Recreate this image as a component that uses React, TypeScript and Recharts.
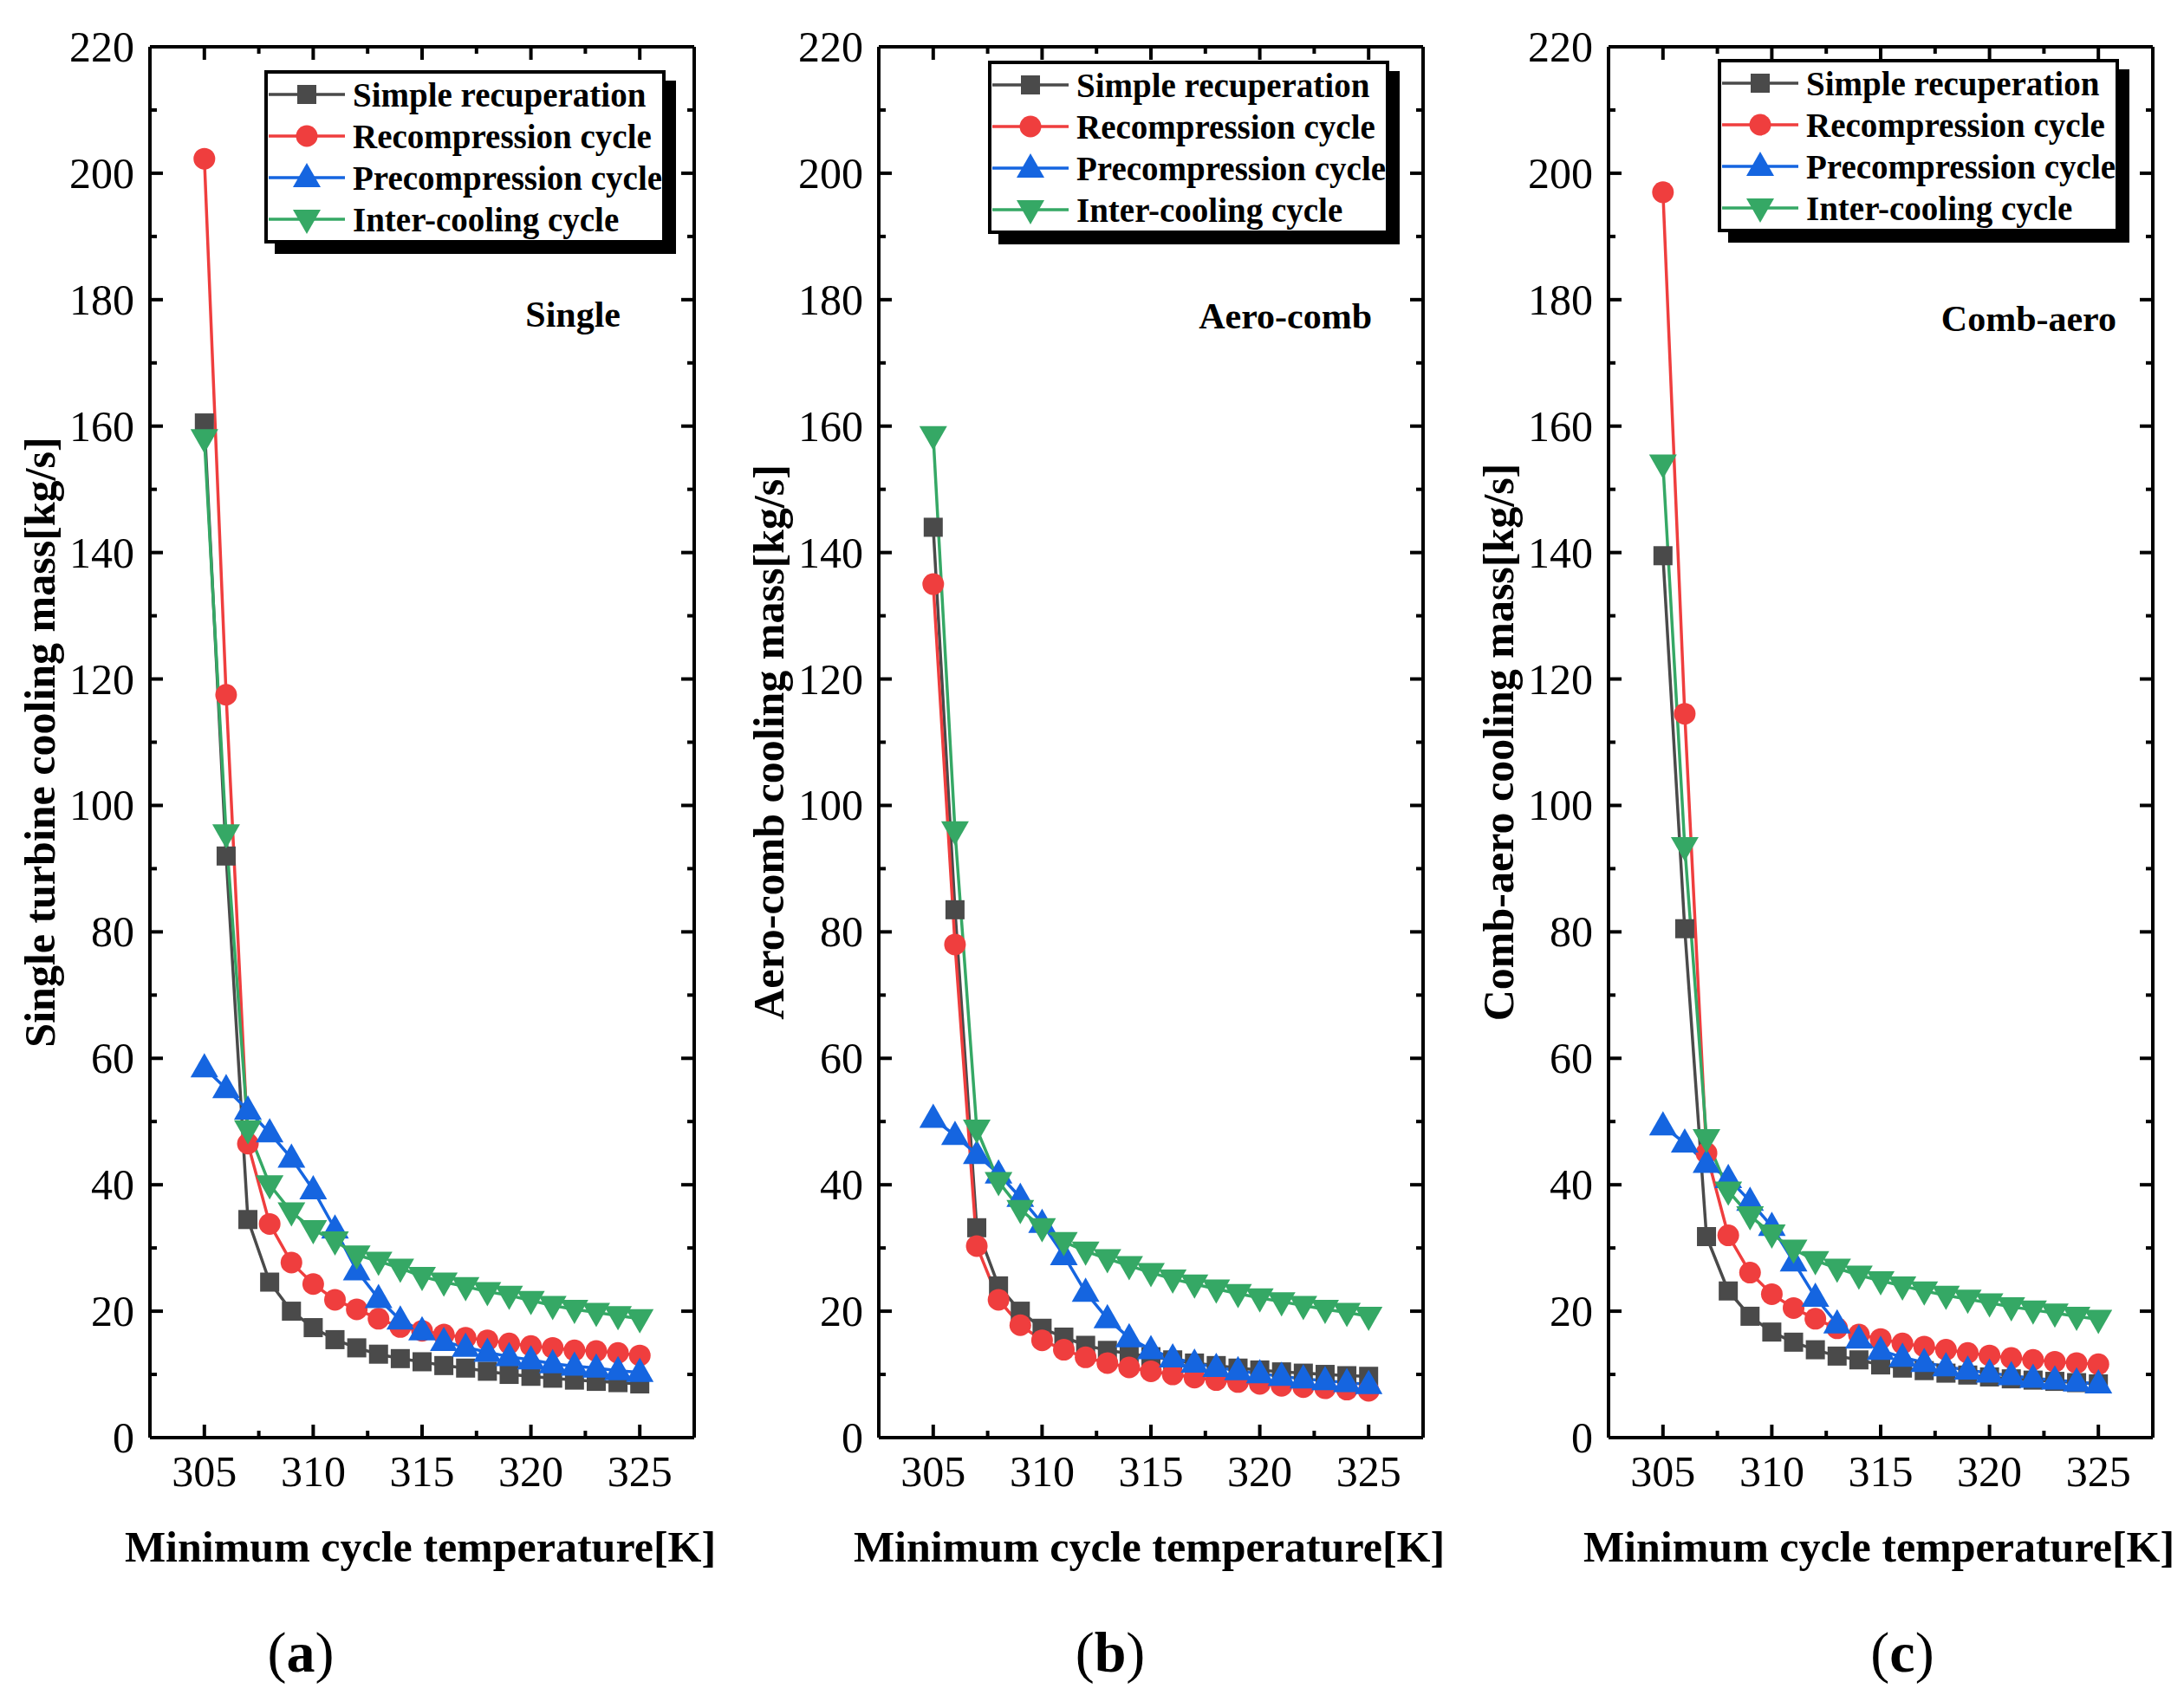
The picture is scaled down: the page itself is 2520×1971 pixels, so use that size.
import React from 'react';
import { LineChart, Line, XAxis, YAxis, Legend, Label } from 'recharts';

// minimum cycle temperature [K]
const temperature = [305, 306, 307, 308, 309, 310, 311, 312, 313, 314, 315, 316, 317, 318, 319, 320, 321, 322, 323, 324, 325];

// (a) Single
const singleSimple = [160.5, 92, 34.5, 24.6, 20, 17.4, 15.5, 14.2, 13.2, 12.5, 12, 11.4, 11, 10.5, 10, 9.7, 9.4, 9.1, 8.9, 8.7, 8.5];
const singleRecomp = [202.3, 117.5, 46.5, 33.8, 27.7, 24.3, 21.8, 20.3, 18.8, 17.5, 16.9, 16.3, 15.8, 15.4, 14.9, 14.5, 14.2, 13.8, 13.7, 13.4, 13.0];
const singlePrecomp = [58.5, 55.2, 51.8, 48.2, 44.2, 39.2, 33, 26.4, 22, 18.6, 16.9, 15.2, 14.3, 13.5, 12.8, 12.3, 11.7, 11.3, 11, 10.6, 10.3];
const singleInter = [158, 95.5, 48.7, 40, 35.7, 32.9, 31.1, 28.9, 27.9, 26.8, 25.5, 24.6, 23.9, 23.1, 22.5, 21.7, 20.9, 20.3, 19.8, 19.3, 18.8];

// (b) Aero-comb
const aeroSimple = [144, 83.5, 33.2, 24, 20, 17.3, 15.9, 14.6, 13.8, 13.3, 12.8, 12.3, 11.8, 11.4, 11, 10.7, 10.4, 10.2, 10, 9.8, 9.7];
const aeroRecomp = [135, 78, 30.3, 21.8, 17.8, 15.4, 13.9, 12.7, 11.8, 11.1, 10.5, 10, 9.5, 9.1, 8.8, 8.5, 8.2, 8, 7.8, 7.6, 7.4];
const aeroPrecomp = [50.5, 47.8, 44.8, 41.7, 38, 33.9, 28.8, 23, 18.8, 15.8, 13.9, 12.6, 11.8, 11.1, 10.6, 10.1, 9.7, 9.3, 9, 8.7, 8.4];
const aeroInter = [158.5, 96, 48.8, 40.5, 36.1, 33.2, 31, 29.5, 28.3, 27.2, 26.1, 25.1, 24.3, 23.5, 22.8, 22.1, 21.5, 20.9, 20.3, 19.8, 19.2];

// (c) Comb-aero
const combSimple = [139.5, 80.5, 31.8, 23.2, 19.2, 16.7, 15.1, 13.9, 12.9, 12.3, 11.5, 11, 10.6, 10.2, 9.9, 9.6, 9.3, 9.1, 8.9, 8.7, 8.5];
const combRecomp = [197, 114.5, 45, 32, 26.1, 22.7, 20.5, 18.8, 17.3, 16.3, 15.6, 14.9, 14.4, 13.9, 13.4, 13, 12.6, 12.3, 12, 11.8, 11.6];
const combPrecomp = [49.3, 46.6, 43.4, 41, 37.4, 33.4, 27.8, 22.2, 18, 15.6, 13.8, 12.7, 11.9, 11.2, 10.7, 10.2, 9.8, 9.4, 9.1, 8.8, 8.5];
const combInter = [154, 93.5, 47.3, 39, 35.1, 32.2, 29.8, 28, 26.8, 25.7, 24.8, 24, 23.2, 22.5, 21.9, 21.3, 20.7, 20.2, 19.7, 19.2, 18.7];

const seriesNames = ['Simple recuperation', 'Recompression cycle', 'Precompression cycle', 'Inter-cooling cycle'];
const yTicks = [0, 10, 20, 30, 40, 50, 60, 70, 80, 90, 100, 110, 120, 130, 140, 150, 160, 170, 180, 190, 200, 210, 220];
const xTicks = [305, 307.5, 310, 312.5, 315, 317.5, 320, 322.5, 325];

const FONT = '"Liberation Serif", "Times New Roman", serif';
const KEYS = ['simple', 'recomp', 'precomp', 'inter'];
const COLORS = ['#4a4a4a', '#ef3e3e', '#1565e0', '#35a865'];
const SHAPES = ['square', 'circle', 'up', 'down'];

const buildRows = (s: number[][]) =>
  temperature.map((t, i) => ({ t, simple: s[0][i], recomp: s[1][i], precomp: s[2][i], inter: s[3][i] }));

const panels = [
  {
    caption: 'a', yTitle: 'Single turbine cooling mass[kg/s]', tag: 'Single', tagRight: 716, tagY: 377,
    legendLeft: 305, legendTop: 81, captionX: 347,
    rows: buildRows([singleSimple, singleRecomp, singlePrecomp, singleInter]),
  },
  {
    caption: 'b', yTitle: 'Aero-comb cooling mass[kg/s]', tag: 'Aero-comb', tagRight: 742, tagY: 379,
    legendLeft: 299, legendTop: 70, captionX: 440,
    rows: buildRows([aeroSimple, aeroRecomp, aeroPrecomp, aeroInter]),
  },
  {
    caption: 'c', yTitle: 'Comb-aero cooling mass[kg/s]', tag: 'Comb-aero', tagRight: 759, tagY: 382,
    legendLeft: 299, legendTop: 68, captionX: 512,
    rows: buildRows([combSimple, combRecomp, combPrecomp, combInter]),
  },
];

const Marker = ({ shape, color, cx, cy }: any) => {
  if (shape === 'square') return <rect x={cx - 11} y={cy - 11} width={22} height={22} fill={color} />;
  if (shape === 'circle') return <circle cx={cx} cy={cy} r={12.5} fill={color} />;
  if (shape === 'up') return <polygon points={`${cx},${cy - 17} ${cx - 16},${cy + 11} ${cx + 16},${cy + 11}`} fill={color} />;
  return <polygon points={`${cx - 16},${cy - 11} ${cx + 16},${cy - 11} ${cx},${cy + 17}`} fill={color} />;
};

const makeDot = (shape: string, color: string) => (props: any) => {
  const { cx, cy, index } = props;
  if (cx == null || cy == null) return <g key={`e-${index}`} />;
  return <Marker key={`m-${index}`} shape={shape} color={color} cx={cx} cy={cy} />;
};

const isMajorY = (v: number) => v % 20 === 0;
const isMajorX = (v: number) => v % 5 === 0;

const LeftTick = (props: any) => {
  const { x, y, payload } = props;
  const ax = x + 18;
  const major = isMajorY(payload.value);
  return (
    <g>
      <line x1={ax} x2={ax + (major ? 15 : 8)} y1={y} y2={y} stroke="#000" strokeWidth={4} />
      {major && (
        <text x={x} y={y} dy="0.34em" textAnchor="end" fontFamily={FONT} fontSize={50} fill="#000">
          {payload.value}
        </text>
      )}
    </g>
  );
};

const RightTick = (props: any) => {
  const { x, y, payload } = props;
  const major = isMajorY(payload.value);
  return <line x1={x} x2={x - (major ? 15 : 8)} y1={y} y2={y} stroke="#000" strokeWidth={4} />;
};

const BottomTick = (props: any) => {
  const { x, y, payload } = props;
  const major = isMajorX(payload.value);
  return (
    <g>
      <line x1={x} x2={x} y1={y} y2={y - (major ? 15 : 8)} stroke="#000" strokeWidth={4} />
      {major && (
        <text x={x} y={y + 56} textAnchor="middle" fontFamily={FONT} fontSize={50} fill="#000">
          {payload.value}
        </text>
      )}
    </g>
  );
};

const TopTick = (props: any) => {
  const { x, y, payload } = props;
  const major = isMajorX(payload.value);
  return <line x1={x} x2={x} y1={y} y2={y + (major ? 15 : 8)} stroke="#000" strokeWidth={4} />;
};

const LegendBox = () => (
  <div style={{
    width: 463, height: 200, boxSizing: 'border-box', border: '4px solid #000', background: '#fff',
    boxShadow: '12px 12px 0 #000', fontFamily: FONT, fontWeight: 'bold', fontSize: 39, color: '#000',
  }}>
    {seriesNames.map((name, i) => (
      <div key={name} style={{ height: 48, display: 'flex', alignItems: 'center', whiteSpace: 'nowrap' }}>
        <svg width={92} height={48} style={{ flex: 'none' }}>
          <line x1={1} x2={89} y1={24} y2={24} stroke={COLORS[i]} strokeWidth={3.5} />
          <Marker shape={SHAPES[i]} color={COLORS[i]} cx={45} cy={24} />
        </svg>
        <span style={{ marginLeft: 6, lineHeight: 1 }}>{name}</span>
      </div>
    ))}
  </div>
);

const Panel = ({ panel }: any) => {
  const yTitle = (p: any) => {
    const vb = p.viewBox;
    const cx = vb.x + 46;
    const cy = vb.y + vb.height / 2;
    return (
      <text x={cx} y={cy} transform={`rotate(-90 ${cx} ${cy})`} textAnchor="middle" dominantBaseline="central"
        fontFamily={FONT} fontWeight="bold" fontSize={50} fill="#000">
        {panel.yTitle}
      </text>
    );
  };
  const xTitle = (p: any) => {
    const vb = p.viewBox;
    return (
      <g>
        <text x={vb.x + vb.width / 2 - 2} y={vb.y + 143} textAnchor="middle" fontFamily={FONT} fontWeight="bold"
          fontSize={50} fill="#000">
          Minimum cycle temperature[K]
        </text>
        <text x={panel.captionX} y={vb.y + 270} textAnchor="middle" fontFamily={FONT} fontSize={66} fill="#000">
          (<tspan fontWeight="bold">{panel.caption}</tspan>)
        </text>
      </g>
    );
  };
  const tagLabel = () => (
    <text x={panel.tagRight} y={panel.tagY} textAnchor="end" fontFamily={FONT} fontWeight="bold" fontSize={42} fill="#000">
      {panel.tag}
    </text>
  );

  return (
    <LineChart width={840} height={1971} data={panel.rows} margin={{ top: 44, right: 29, bottom: 0, left: 0 }}>
      <XAxis dataKey="t" type="number" domain={[302.5, 327.5]} ticks={xTicks} interval={0} height={312}
        tickSize={0} tickMargin={0} tickLine={false} tick={<BottomTick />}
        axisLine={{ stroke: '#000', strokeWidth: 4 }} allowDataOverflow>
        <Label content={xTitle} />
      </XAxis>
      <XAxis xAxisId="top" orientation="top" dataKey="t" type="number" domain={[302.5, 327.5]} ticks={xTicks}
        interval={0} height={10} tickSize={0} tickMargin={0} tickLine={false} tick={<TopTick />}
        axisLine={{ stroke: '#000', strokeWidth: 4 }} allowDataOverflow>
        <Label content={tagLabel} />
      </XAxis>
      <YAxis type="number" domain={[0, 220]} ticks={yTicks} interval={0} width={173} tickSize={0} tickMargin={18}
        tickLine={false} tick={<LeftTick />} axisLine={{ stroke: '#000', strokeWidth: 4 }} allowDataOverflow>
        <Label content={yTitle} />
      </YAxis>
      <YAxis yAxisId="right" orientation="right" type="number" domain={[0, 220]} ticks={yTicks} interval={0}
        width={10} tickSize={0} tickMargin={0} tickLine={false} tick={<RightTick />}
        axisLine={{ stroke: '#000', strokeWidth: 4 }} allowDataOverflow />
      <Legend layout="vertical" align="center" verticalAlign="middle" content={() => <LegendBox />}
        wrapperStyle={{ position: 'absolute', left: panel.legendLeft, top: panel.legendTop, width: 463, height: 200 }} />
      {KEYS.map((k, i) => (
        <Line key={k} dataKey={k} type="linear" stroke={COLORS[i]} strokeWidth={3.5}
          dot={makeDot(SHAPES[i], COLORS[i])} activeDot={false} isAnimationActive={false} />
      ))}
    </LineChart>
  );
};

const offsets = [0, 841, 1683];

export default function App() {
  return (
    <div style={{ position: 'absolute', left: 0, top: 0, width: 2520, height: 1971, background: '#fff', overflow: 'hidden' }}>
      {panels.map((p, i) => (
        <div key={p.caption} style={{ position: 'absolute', left: offsets[i], top: 0, width: 840, height: 1971 }}>
          <Panel panel={p} />
        </div>
      ))}
    </div>
  );
}
